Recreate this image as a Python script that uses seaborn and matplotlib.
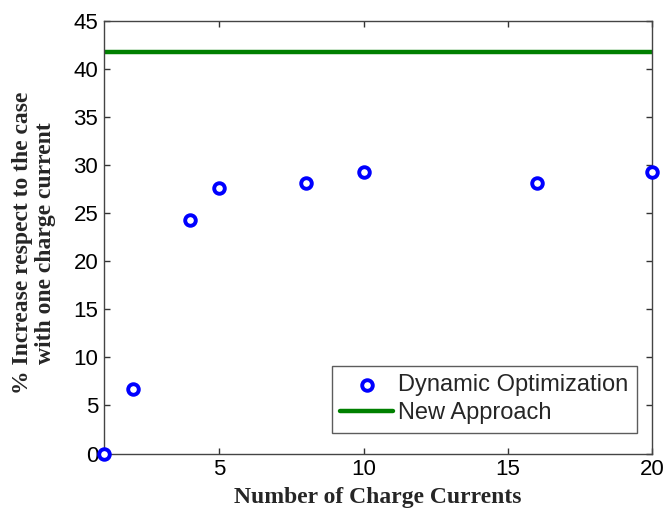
import matplotlib
matplotlib.use("Agg")
import matplotlib.pyplot as plt
import seaborn as sns
import pandas as pd

# Percentage increase for each number of charge currents
charge_currents = [1, 2, 4, 5, 8, 10, 16, 20]
dynamic_opt = [0.0, 6.7, 24.3, 27.6, 28.1, 29.3, 28.1, 29.3]
new_approach = 41.8

x_ticks = [5, 10, 15, 20]
y_ticks = [0, 5, 10, 15, 20, 25, 30, 35, 40, 45]

sns.set_theme(style="white")
plt.rcParams["font.family"] = ["Liberation Sans", "DejaVu Sans"]

fig = plt.figure(figsize=(6.66, 5.09), dpi=100)
ax = fig.add_axes([0.156, 0.109, 0.823, 0.85])

df = pd.DataFrame({"n": charge_currents, "inc": dynamic_opt})
sns.scatterplot(data=df, x="n", y="inc", ax=ax, marker="o", s=58,
                facecolor="white", edgecolor="#0000ff", linewidth=2.8,
                label="Dynamic Optimization", zorder=3, clip_on=False)
ax.axhline(new_approach, color="#008000", linewidth=3.2, label="New Approach", zorder=2)

ax.set_xlim(1, 20)
ax.set_ylim(0, 45)
ax.set_xticks(x_ticks)
ax.set_yticks(y_ticks)
ax.tick_params(direction="in", length=4, width=1, colors="#333333",
               labelcolor="black", labelsize=16, top=True, right=True,
               bottom=True, left=True, pad=4)
for s in ax.spines.values():
    s.set_color("#444444")
    s.set_linewidth(1.0)

ax.set_xlabel("Number of Charge Currents", family=["Liberation Serif"],
              fontweight="bold", fontsize=17, labelpad=5)
ax.set_ylabel("% Increase respect to the case\nwith one charge current",
              family=["Liberation Serif"], fontweight="bold", fontsize=17,
              linespacing=1.1)
ax.yaxis.set_label_coords(-0.088, 0.486)

leg = ax.legend(loc="lower right", bbox_to_anchor=(0.972, 0.048), fontsize=17,
                frameon=True, fancybox=False, edgecolor="#333333",
                handlelength=2.25, handletextpad=0.2, borderpad=0.35,
                labelspacing=0.28, borderaxespad=0.0)
leg.get_frame().set_linewidth(1.0)

fig.savefig("out.png", dpi=100)
